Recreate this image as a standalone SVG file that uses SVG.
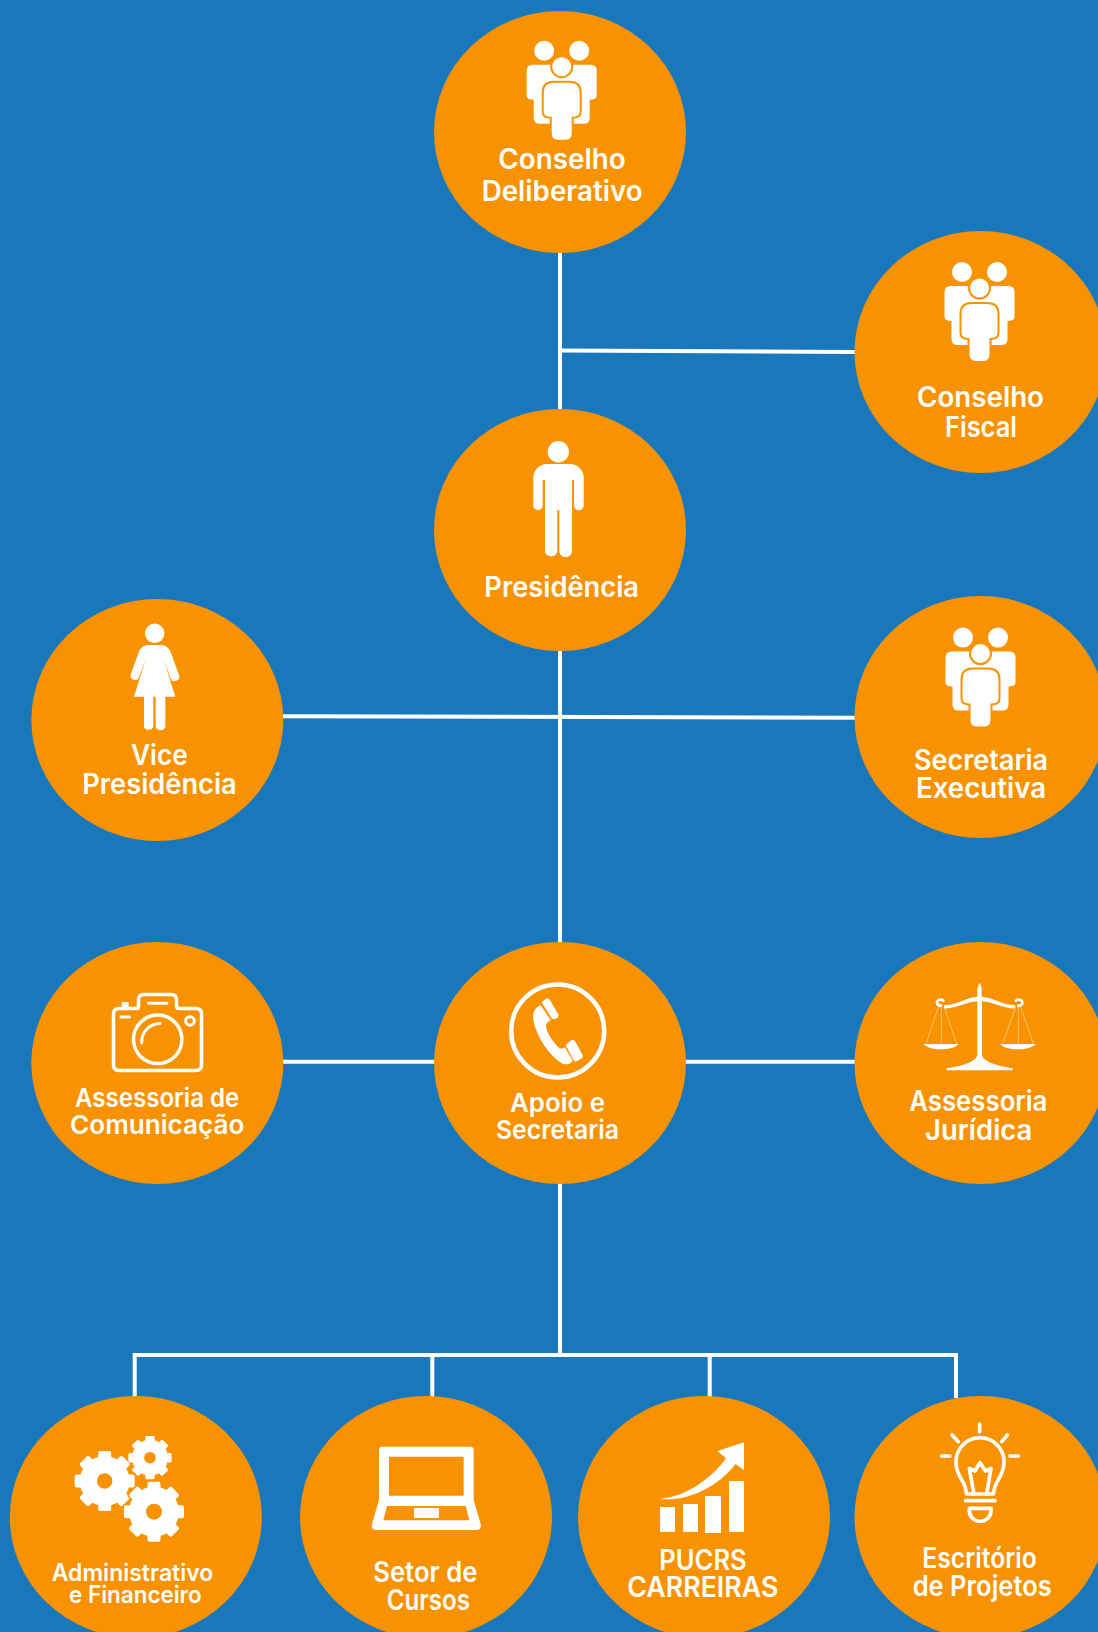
<svg xmlns="http://www.w3.org/2000/svg" xmlns:xlink="http://www.w3.org/1999/xlink" width="1098" height="1632" viewBox="0 0 1098 1632">
<style>
.c{fill:#f99200}
.t{font-family:"Inter","Open Sans","Liberation Sans",sans-serif;font-weight:600;fill:#fff;font-size:28px}
.m{font-size:26px}
.s{font-size:24px}
.i{fill:#fff}
.o{fill:none;stroke:#fff;stroke-linecap:round;stroke-linejoin:round}
.l{fill:none;stroke:#fff;stroke-width:4}
.h{fill:#f99200}
</style>
<defs>
<g id="people">
<circle class="i" cx="-17.5" cy="10" r="10"/><circle class="i" cx="17.5" cy="10" r="10"/>
<path class="i" d="M-29 24H29Q35 24 35 30V55Q35 59 28 59V77Q28 83 22 83H-22Q-28 83-28 77V59Q-35 59-35 55V30Q-35 24-29 24Z"/>
<circle class="i" cx="0" cy="26" r="10.5" stroke="#f99200" stroke-width="2"/>
<path class="i" stroke="#f99200" stroke-width="2" d="M-8 41H8Q19 41 19 52V71Q19 77 11 77V92Q11 100 4 100H-4Q-11 100-11 92V77Q-19 77-19 71V52Q-19 41-8 41Z"/>
</g>
<g id="gear">
<circle r="25"/>
<rect x="-6.500" y="-30" width="13" height="12" rx="2"/>
<rect x="-6.500" y="-30" width="13" height="12" rx="2" transform="rotate(45)"/>
<rect x="-6.500" y="-30" width="13" height="12" rx="2" transform="rotate(90)"/>
<rect x="-6.500" y="-30" width="13" height="12" rx="2" transform="rotate(135)"/>
<rect x="-6.500" y="-30" width="13" height="12" rx="2" transform="rotate(180)"/>
<rect x="-6.500" y="-30" width="13" height="12" rx="2" transform="rotate(225)"/>
<rect x="-6.500" y="-30" width="13" height="12" rx="2" transform="rotate(270)"/>
<rect x="-6.500" y="-30" width="13" height="12" rx="2" transform="rotate(315)"/>
</g>
</defs>
<rect width="1098" height="1632" fill="#1878bb"/>
<g id="connectors">
<path class="l" d="M560 250V412M560 648V945M560 1182V1356"/>
<path class="l" d="M560 350.500L856 352"/>
<path class="l" d="M281 716.300L856 717.700"/>
<path class="l" d="M281 1061.700H437M683 1061.700H856"/>
<path class="l" d="M134.700 1398V1355H956V1398M432.300 1355V1398M709.700 1355V1398"/>
</g>
<g id="conselho-deliberativo">
<ellipse class="c" cx="560" cy="132" rx="126" ry="121"/>
<use href="#people" x="561.700" y="40.700"/>
<text class="t" x="498.300" y="169.300" textLength="127.400" lengthAdjust="spacingAndGlyphs">Conselho</text>
<text class="t" x="481.700" y="200.700" textLength="161" lengthAdjust="spacingAndGlyphs">Deliberativo</text>
</g>
<g id="conselho-fiscal">
<ellipse class="c" cx="980.500" cy="352" rx="126" ry="121"/>
<use href="#people" x="979.500" y="262"/>
<text class="t" x="917" y="407" textLength="127" lengthAdjust="spacingAndGlyphs">Conselho</text>
<text class="t" x="945" y="436.500" textLength="72" lengthAdjust="spacingAndGlyphs">Fiscal</text>
</g>
<g id="presidencia">
<ellipse class="c" cx="560" cy="530" rx="126" ry="121"/>
<circle class="i" cx="558.300" cy="451.700" r="10.700"/>
<path class="i" d="M547 464H570A13.700 14 0 0 1 583.700 478V505.500A4.850 4.850 0 0 1 574 505.500V480H572V552A6.500 6.500 0 0 1 559.300 552V510H557.300V552A6.500 6.500 0 0 1 545 552V480H542.700V505.500A4.700 4.700 0 0 1 533.300 505.500V478A13.700 14 0 0 1 547 464Z"/>
<text class="t" x="484.300" y="596.700" textLength="154.700" lengthAdjust="spacingAndGlyphs">Presidência</text>
</g>
<g id="vice-presidencia">
<ellipse class="c" cx="157.300" cy="720" rx="126" ry="121"/>
<circle class="i" cx="154.700" cy="633.300" r="9.700"/>
<path class="i" d="M148 645H161Q168 645 171 653L179 675A4.600 4.600 0 0 1 170.500 678.500L163.300 658.500L175.300 696.700H165.300V727A5.200 5.200 0 0 1 155.700 727V696.700H153.300V727A5.200 5.200 0 0 1 144 727V696.700H134L146 658.500L138.500 678.500A4.600 4.600 0 0 1 130.500 675L138.500 653Q141 645 148 645Z"/>
<text class="t" x="131" y="765" textLength="56.700" lengthAdjust="spacingAndGlyphs">Vice</text>
<text class="t" x="82.300" y="794.300" textLength="154.400" lengthAdjust="spacingAndGlyphs">Presidência</text>
</g>
<g id="secretaria-executiva">
<ellipse class="c" cx="980.500" cy="717" rx="126" ry="121"/>
<use href="#people" x="980.500" y="627.600"/>
<text class="t" x="914" y="770" textLength="134" lengthAdjust="spacingAndGlyphs">Secretaria</text>
<text class="t" x="916" y="798" textLength="130" lengthAdjust="spacingAndGlyphs">Executiva</text>
</g>
<g id="assessoria-comunicacao">
<ellipse class="c" cx="157.300" cy="1063" rx="126" ry="121"/>
<path class="o" stroke-width="3.500" d="M119 1008.500H137Q138.500 1008.500 138.500 1006V1000Q138.500 994.500 144 994.500H171Q176.500 994.500 176.500 1000V1006Q176.500 1008.500 179 1008.500H196Q201.500 1008.500 201.500 1014V1065Q201.500 1070.500 196 1070.500H119Q113.500 1070.500 113.500 1065V1014Q113.500 1008.500 119 1008.500Z"/>
<path class="o" stroke-width="3" d="M148.500 1003.300H167M121 1017H129.500"/>
<rect class="i" x="121.700" y="1002" width="7" height="5" rx="1"/>
<circle class="o" stroke-width="3.500" cx="157.700" cy="1039.300" r="24.200"/>
<path class="o" stroke-width="3" d="M141.700 1043A18.500 18.500 0 0 1 160 1023.500"/>
<circle class="o" stroke-width="3" cx="190" cy="1021" r="4.300"/>
<text class="t m" x="75" y="1106.700" textLength="164.300" lengthAdjust="spacingAndGlyphs">Assessoria de</text>
<text class="t m" x="70" y="1134.300" textLength="174.300" lengthAdjust="spacingAndGlyphs">Comunicação</text>
</g>
<g id="apoio-secretaria">
<ellipse class="c" cx="560" cy="1063" rx="126" ry="121"/>
<circle class="o" stroke-width="4.500" cx="557.700" cy="1031" r="46.500"/>
<g transform="translate(420 940) scale(.3333)">
<path class="i" d="M362 195C340 205 335 225 342 250C355 300 395 355 430 372C445 376 455 368 458 362L435 322C425 328 420 326 415 322C395 300 378 275 378 255C378 250 385 245 392 240Z"/>
<path class="i" d="M365 187L380 175Q385 173 390 180L416 225Q416 232 410 235L402 238Q397 238 393 232Z"/>
<path class="i" d="M437 315L455 300Q460 298 465 303L488 345Q490 350 485 355L470 364Q465 366 460 360Z"/>
</g>
<text class="t m" x="510" y="1111.700" textLength="95" lengthAdjust="spacingAndGlyphs">Apoio e</text>
<text class="t m" x="496" y="1139.300" textLength="123" lengthAdjust="spacingAndGlyphs">Secretaria</text>
</g>
<g id="assessoria-juridica">
<ellipse class="c" cx="980.500" cy="1063" rx="126" ry="121"/>
<g transform="translate(840 940) scale(.3333)">
<path fill="none" stroke="#ffd9a0" stroke-width="2" d="M296 198L258 312M304 198V312M312 198L350 312M528 198L488 312M535 198V312M541 198L580 312"/>
<path class="i" d="M419 128C426 140 426 150 425 155V170C460 172 495 198 525 195V205C495 208 460 186 426 184V345C430 365 470 378 518 385V391H320V385C370 378 408 365 412 345V184C378 186 345 208 312 205V195C345 198 378 172 412 170V155C411 150 412 140 419 128Z"/>
<path class="o" stroke-width="8" d="M310 182A11 9 0 1 0 303 197M528 182A11 9 0 1 1 535 197"/>
<path class="i" d="M250 312H357C345 322 330 328 303 328C276 328 262 322 250 312ZM480 312H588C576 322 561 328 534 328C507 328 492 322 480 312Z"/>
</g>
<text class="t" x="909.300" y="1111" textLength="138" lengthAdjust="spacingAndGlyphs">Assessoria</text>
<text class="t" x="925" y="1140" textLength="107.300" lengthAdjust="spacingAndGlyphs">Jurídica</text>
</g>
<g id="administrativo-financeiro">
<ellipse class="c" cx="135.800" cy="1517" rx="126" ry="121"/>
<use href="#gear" class="i" transform="translate(104.700 1481)"/>
<use href="#gear" class="i" transform="translate(150 1457.700) scale(.72)"/>
<use href="#gear" fill="#f99200" stroke="#f99200" stroke-width="3" transform="translate(154 1511.700)"/>
<use href="#gear" class="i" transform="translate(154 1511.700)"/>
<circle class="h" cx="104.700" cy="1481" r="7.700"/>
<circle class="h" cx="150" cy="1457.700" r="5.800"/>
<circle class="h" cx="154" cy="1511.700" r="8"/>
<text class="t s" x="51.700" y="1580.700" textLength="161.600" lengthAdjust="spacingAndGlyphs">Administrativo</text>
<text class="t s" x="69" y="1603.300" textLength="132.700" lengthAdjust="spacingAndGlyphs">e Financeiro</text>
</g>
<g id="setor-cursos">
<ellipse class="c" cx="426" cy="1517" rx="126" ry="121"/>
<g transform="translate(290 1390) scale(.3333)">
<path class="i" fill-rule="evenodd" d="M277 170H541Q551 170 551 180V330L573 405Q573 420 560 420H258Q245 420 245 405L267 330V180Q267 170 277 170ZM297 200V317H521V200ZM291 348L280 391H538L527 348Z"/>
<rect class="i" x="372" y="354" width="75" height="30"/>
</g>
<text class="t" x="373.300" y="1582" textLength="104" lengthAdjust="spacingAndGlyphs">Setor de</text>
<text class="t" x="386.700" y="1610" textLength="83.300" lengthAdjust="spacingAndGlyphs">Cursos</text>
</g>
<g id="pucrs-carreiras">
<ellipse class="c" cx="704" cy="1517" rx="126" ry="121"/>
<g transform="translate(570 1390) scale(.3333)">
<rect class="i" x="270" y="351" width="45" height="75"/>
<rect class="i" x="339" y="342" width="45" height="84"/>
<rect class="i" x="405" y="318" width="48" height="111"/>
<rect class="i" x="477" y="273" width="45" height="153"/>
<path class="i" d="M270 327C350 320 425 265 468 205L442 183L522 157V241L497 222C440 295 350 335 270 327Z"/>
</g>
<text class="t" x="659.300" y="1570" textLength="87.400" lengthAdjust="spacingAndGlyphs">PUCRS</text>
<text class="t" x="627.300" y="1597" textLength="151" lengthAdjust="spacingAndGlyphs">CARREIRAS</text>
</g>
<g id="escritorio-projetos">
<ellipse class="c" cx="980.500" cy="1517" rx="126" ry="121"/>
<g transform="translate(850 1390) scale(.3333)">
<path class="o" stroke-width="11" d="M389 102V125M306 135L325 155M472 135L455 155M275 198H300M480 198H505"/>
<path class="o" stroke-width="11" d="M350 312L345 290C340 270 318 255 318 215A72 72 0 0 1 462 215C462 255 440 270 435 290L430 312Z"/>
<path class="o" stroke-width="11" d="M372 312L358 235L375 243L390 218L407 243L423 235L410 312"/>
<path class="o" stroke-width="11" d="M347 332H435M358 355H423V362A32 32 0 0 1 358 362Z"/>
</g>
<text class="t" x="922.300" y="1568" textLength="114.400" lengthAdjust="spacingAndGlyphs">Escritório</text>
<text class="t" x="912.700" y="1596" textLength="139" lengthAdjust="spacingAndGlyphs">de Projetos</text>
</g>
</svg>
